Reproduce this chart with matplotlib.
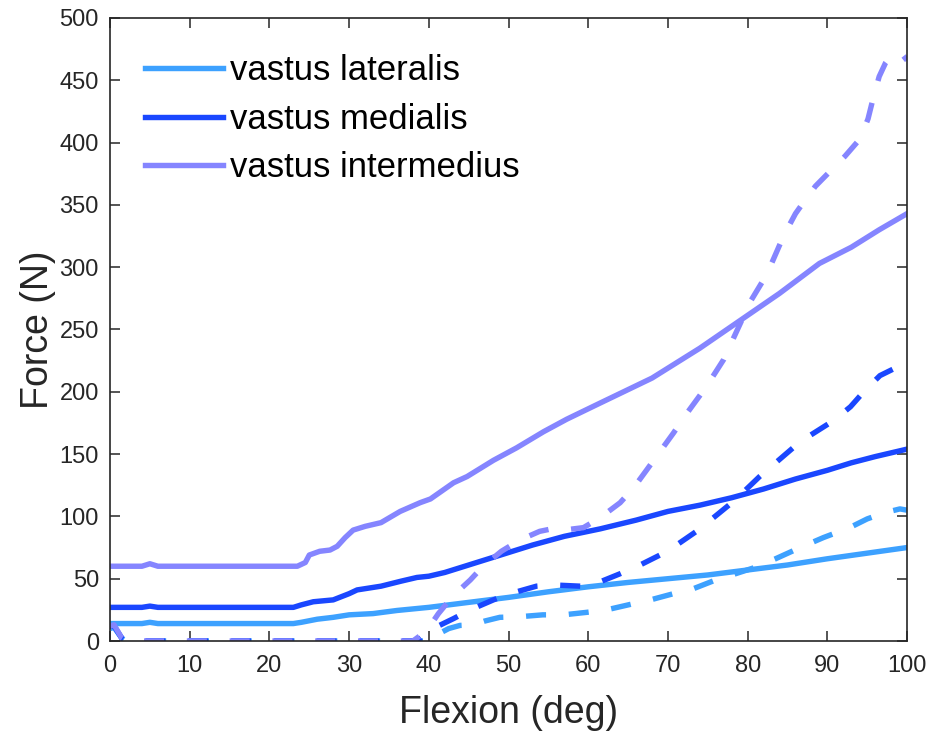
import matplotlib
matplotlib.use('Agg')
import matplotlib.pyplot as plt
import numpy as np

# Muscle forces vs knee flexion angle (solid = model A, dashed = model B)
labels = ['vastus lateralis', 'vastus medialis', 'vastus intermedius']
colors = ['#3da1ff', '#1a47ff', '#8585ff']

# solid curves
vl_x = [0, 4, 5, 6, 23, 24, 26, 28, 30, 33, 36, 40, 45, 50, 55, 60, 65, 70, 75, 80, 85, 90, 95, 100]
vl_y = [14, 14, 15, 14, 14, 15, 17.5, 19, 21, 22, 24.5, 27, 31, 35, 39.5, 43.5, 47, 50, 53, 57, 61, 66, 70.5, 75]

vm_x = [0, 4, 5, 6, 23, 24, 25.5, 28, 30, 31, 34, 36.5, 38.5, 40, 42, 45, 49, 53, 57, 61.5,
        66, 70, 74, 78, 82, 86, 90, 93, 96, 100]
vm_y = [27, 27, 28, 27, 27, 29, 31.5, 33, 38, 41, 44, 48, 51, 52, 55, 61, 69, 77, 84, 90,
        97, 104, 109, 115, 122, 130, 137, 143, 148, 154]

vi_x = [0, 4, 5, 6, 23.5, 24.5, 25, 26.3, 27.6, 28.5, 29.5, 30.5, 32, 34, 36.4, 38.9, 40.2,
        43.1, 44.8, 48.1, 51, 54.4, 57.3, 61.5, 68, 74, 79, 84, 89, 93, 96.5, 100]
vi_y = [60, 60, 62, 60, 60, 63, 69, 72, 73, 76, 83, 89, 92, 95, 104, 111, 114,
        127, 132, 145, 155, 168, 178, 191, 211, 235, 257, 279, 303, 316, 330, 343]

# dashed curves
vl2_x = [0, 0.5, 1.5, 2, 40, 41, 42.5, 43.9, 45.6, 47, 48.9, 51.4, 54.3, 56.9, 59.8, 62.3,
         65.7, 67.8, 70.7, 73.2, 76, 78, 80.9, 83.5, 86.6, 89.5, 92.8, 95, 97.2, 99.1, 100]
vl2_y = [10, 11, 2, 0, 0, 5, 10, 12.5, 13, 16, 19, 19.5, 21, 21, 23, 25,
         30, 33, 38, 42, 49, 53, 59, 66, 75, 83, 91, 98, 103, 106, 105]

vm2_x = [0, 0.5, 1.5, 2, 38.5, 40.2, 43.1, 45.2, 48.1, 50.2, 53.5, 55.6, 59, 61.3, 64, 66.5,
         69, 71.3, 73.8, 78.4, 81.5, 86.6, 90.8, 92.9, 94.7, 96.6, 98.5, 99.3, 100]
vm2_y = [12, 12, 2, 0, 0, 9, 18, 25, 33, 38, 44, 45, 44, 47, 54, 61,
         69, 78, 89, 113, 132, 160, 177, 188, 201, 213, 219, 219, 215]

vi2_x = [0, 0.5, 1.5, 2, 38, 39.7, 41.2, 43, 45.2, 46.8, 49.1, 51.4, 53.9, 55.4, 56.9, 59.4,
         61.5, 64, 65.7, 67.3, 69, 70.7, 72.4, 74, 75.3, 77, 78, 79.3, 80.3, 82, 83, 84.5,
         86, 87, 88.5, 90.5, 92.2, 94.1, 95.1, 95.8, 96.5, 97.3, 98, 98.7, 99.5, 100]
vi2_y = [12, 13, 2, 0, 0, 8, 22, 36, 49, 60, 72, 81, 88, 90, 89, 91,
         99, 111, 123, 137, 152, 167, 183, 197, 209, 226, 240, 258, 272, 290, 303, 325,
         343, 352, 365, 378, 389, 403, 419, 437, 453, 464, 470, 472, 470, 466]

x_ticks = np.arange(0, 101, 10)
y_ticks = np.arange(0, 501, 50)

plt.rcParams['font.family'] = ['Liberation Sans', 'DejaVu Sans']


def draw_chart():
    fig = plt.figure(figsize=(9.31, 7.34), dpi=100)
    ax = fig.add_axes([0.1182, 0.1267, 0.8561, 0.8488])

    lw = 3.9
    dash = (0, (3.7, 4.2))
    solid = [(vl_x, vl_y), (vm_x, vm_y), (vi_x, vi_y)]
    dashed = [(vl2_x, vl2_y), (vm2_x, vm2_y), (vi2_x, vi2_y)]

    for (x, y), c, lab in zip(solid, colors, labels):
        ax.plot(x, y, color=c, lw=lw, label=lab, solid_joinstyle='round')
    for (x, y), c in zip(dashed, colors):
        ax.plot(x, y, color=c, lw=lw, linestyle=dash, dash_joinstyle='round')

    ax.set_xlim(0, 100)
    ax.set_ylim(0, 500)
    ax.set_xticks(x_ticks)
    ax.set_yticks(y_ticks)

    dark = '#262626'
    for sp in ax.spines.values():
        sp.set_linewidth(1.2)
        sp.set_color(dark)
    ax.tick_params(direction='in', length=7, width=1.1, top=True, right=True,
                   labelsize=17, colors=dark)
    ax.tick_params(axis='x', pad=10)
    ax.tick_params(axis='y', pad=8)

    # axis titles, centred on fixed offsets from the frame
    ax.set_xlabel('Flexion (deg)', fontsize=27, color=dark, va='center')
    ax.set_ylabel('Force (N)', fontsize=27, color=dark, va='center')
    ax.xaxis.set_label_coords(0.5, -0.116)
    ax.yaxis.set_label_coords(-0.09, 0.5)

    ax.legend(loc='upper left', bbox_to_anchor=(0.044, 0.942), frameon=False,
              fontsize=25, handlelength=2.25, handletextpad=0.2,
              labelspacing=0.45, borderpad=0, borderaxespad=0)

    fig.savefig('out.png', dpi=100)
    plt.close(fig)


if __name__ == '__main__':
    draw_chart()
